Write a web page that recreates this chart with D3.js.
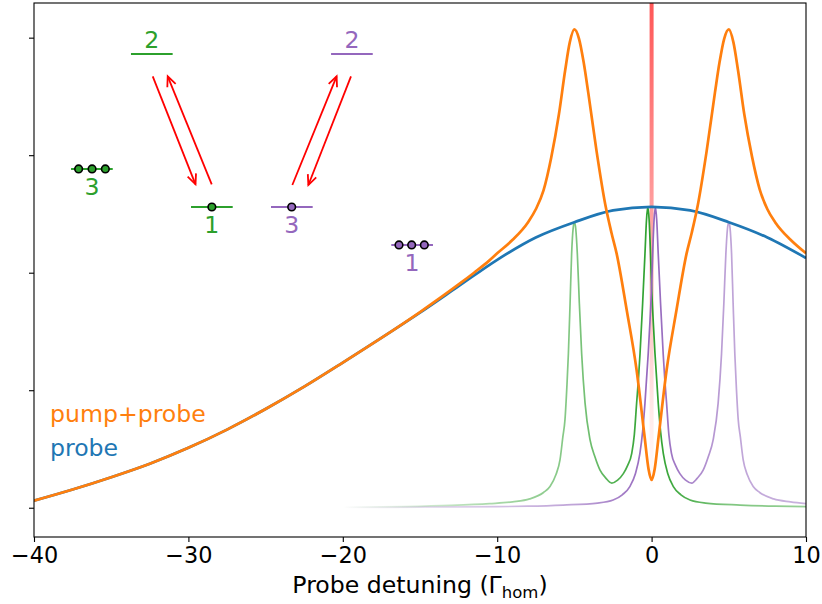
<!DOCTYPE html>
<html><head><meta charset="utf-8">
<script src="https://cdn.jsdelivr.net/npm/d3@7"></script>
<style>body{margin:0;background:#fff}svg{display:block}text{font-family:"DejaVu Sans",sans-serif}</style>
</head><body><svg id="c" width="822" height="604"></svg>
<script>
// ---------- data ----------
const xTicks = [-40, -30, -20, -10, 0, 10];
const yTicks = [0, 1, 2, 3, 4];

const probeX = [-40,-37.5,-35,-32.5,-30,-27.5,-25,-22.5,-20,-17.5,-15,-12.5,-10,-7.5,-5,-2.5,0,2.5,5,7.5,10];
const probeY = [0.06,0.155,0.26,0.375,0.51,0.665,0.84,1.03,1.235,1.445,1.66,1.885,2.11,2.30,2.43,2.53,2.56,2.53,2.43,2.30,2.125];

const pumpX = [-40,-37.5,-35,-32.5,-30,-27.5,-25,-22.5,-20,-17.5,-15,-12.5,-11.5,-10.5,-10,-9,-8,-7.5,-7,-6.5,-6,-5.6,-5.3,-5,-4.7,-4.4,-4.1,-3.56,-3.0,-2.6,-2.26,-1.61,-0.97,-0.45,-0.2,0,0.2,0.45,0.97,1.61,2.26,2.6,3.0,3.56,4.1,4.4,4.7,5,5.3,5.6,6,6.5,7,7.5,8,9,10];
const pumpY = [0.06,0.155,0.26,0.375,0.51,0.665,0.84,1.03,1.235,1.445,1.665,1.9,2.0,2.105,2.165,2.28,2.43,2.54,2.7,2.98,3.35,3.72,3.96,4.07,3.99,3.79,3.53,3.03,2.58,2.34,2.16,1.68,1.17,0.6,0.33,0.236,0.33,0.6,1.17,1.68,2.16,2.34,2.58,3.03,3.53,3.79,3.99,4.07,3.96,3.72,3.35,2.99,2.71,2.54,2.43,2.28,2.165];

const greenX = [-20,-16,-13,-10.5,-9,-7.9,-7,-6.58,-6.2,-5.93,-5.75,-5.61,-5.48,-5.39,-5.28,-5.18,-5.08,-5,-4.91,-4.81,-4.68,-4.53,-4.31,-3.99,-3.66,-3.34,-2.95,-2.58,-2.2,-1.83,-1.55,-1.29,-1.12,-0.97,-0.85,-0.75,-0.58,-0.43,-0.33,-0.25,-0.16,-0.08,0,0.1,0.22,0.43,0.58,0.76,1.05,1.41,1.9,2.49,3.5,5.73,8,10];
const greenY = [0.004,0.01,0.02,0.035,0.05,0.075,0.13,0.18,0.28,0.41,0.6,0.75,1.05,1.31,1.74,2.16,2.38,2.43,2.37,2.16,1.74,1.31,0.89,0.58,0.43,0.32,0.25,0.21,0.235,0.29,0.36,0.46,0.62,0.89,1.1,1.31,1.74,2.16,2.45,2.56,2.45,2.2,1.88,1.6,1.31,0.89,0.65,0.46,0.29,0.18,0.11,0.066,0.04,0.023,0.013,0.009];

const purpleX = [-20,-15,-10,-8,-5.73,-3.5,-2.49,-1.9,-1.41,-1.05,-0.76,-0.58,-0.43,-0.22,-0.1,0,0.08,0.16,0.25,0.33,0.43,0.58,0.75,0.85,0.97,1.12,1.29,1.55,1.83,2.2,2.6,2.95,3.34,3.66,3.99,4.31,4.53,4.68,4.81,4.91,5,5.08,5.18,5.28,5.39,5.48,5.61,5.75,5.93,6.2,6.58,7,7.9,9,10];
const purpleY = [0.003,0.005,0.009,0.013,0.023,0.04,0.066,0.11,0.18,0.29,0.46,0.65,0.89,1.31,1.6,1.88,2.2,2.45,2.56,2.45,2.16,1.74,1.31,1.1,0.89,0.62,0.46,0.36,0.29,0.235,0.21,0.25,0.32,0.43,0.58,0.89,1.31,1.74,2.16,2.37,2.43,2.38,2.16,1.74,1.31,1.05,0.75,0.6,0.41,0.28,0.18,0.13,0.075,0.05,0.035];

const pumpLineX = 0;
const pumpLineY = [0.15, 4.3];

const legendLabels = ["pump+probe", "probe"];

// energy level diagrams (data coordinates)
const greenLevels = [
  {label: "2", x: -32.37, y: 3.861, dots: [], pos: "above"},
  {label: "1", x: -28.48, y: 2.559, dots: [-28.48], pos: "below"},
  {label: "3", x: -36.25, y: 2.883, dots: [-37.11, -36.24, -35.38], pos: "below"}
];
const purpleLevels = [
  {label: "2", x: -19.41, y: 3.861, dots: [], pos: "above"},
  {label: "3", x: -23.30, y: 2.559, dots: [-23.31], pos: "below"},
  {label: "1", x: -15.51, y: 2.236, dots: [-16.36, -15.54, -14.72], pos: "below"}
];
const levelHalfWidth = 1.35;
const arrows = [
  {x1: -32.31, y1: 3.671, x2: -29.54, y2: 2.752},
  {x1: -28.49, y1: 2.752, x2: -31.34, y2: 3.671},
  {x1: -23.27, y1: 2.746, x2: -20.40, y2: 3.671},
  {x1: -19.47, y1: 3.671, x2: -22.23, y2: 2.746}
];

// ---------- drawing ----------
const C = {blue: "#1f77b4", orange: "#ff7f0e", green: "#2ca02c", purple: "#9467bd", red: "#ff0000"};
const m = {l: 34, r: 806, t: 3, b: 537};
const x = d3.scaleLinear().domain([-40, 10]).range([m.l, m.r]);
const y = d3.scaleLinear().domain([-0.249, 4.295]).range([m.b, m.t]);
const svg = d3.select("#c");
const defs = svg.append("defs");
defs.append("clipPath").attr("id", "clip").append("rect")
  .attr("x", m.l).attr("y", m.t).attr("width", m.r - m.l).attr("height", m.b - m.t);

const fadeStops = [[-20,0],[-17,0.12],[-13,0.3],[-9,0.45],[-5,0.6],[-2,0.85],[0,1],[2,0.85],[5,0.6],[10,0.5]];
function fadeGrad(id, color) {
  const g = defs.append("linearGradient").attr("id", id).attr("gradientUnits", "userSpaceOnUse")
    .attr("x1", x(-20)).attr("x2", x(10)).attr("y1", 0).attr("y2", 0);
  fadeStops.forEach(s => g.append("stop").attr("offset", (s[0] + 20) / 30)
    .attr("stop-color", color).attr("stop-opacity", s[1]));
}
fadeGrad("gGreen", C.green);
fadeGrad("gPurple", C.purple);
const rg = defs.append("linearGradient").attr("id", "gRed").attr("gradientUnits", "userSpaceOnUse")
  .attr("x1", 0).attr("x2", 0).attr("y1", y(pumpLineY[1])).attr("y2", y(pumpLineY[0]));
[[0, 0.66], [0.45, 0.36], [0.85, 0.08], [1, 0]].forEach(s =>
  rg.append("stop").attr("offset", s[0]).attr("stop-color", C.red).attr("stop-opacity", s[1]));

const plot = svg.append("g").attr("clip-path", "url(#clip)");
const line = d3.line().x(d => x(d[0])).y(d => y(d[1])).curve(d3.curveMonotoneX);
const zip = (a, b) => a.map((v, i) => [v, b[i]]);

plot.append("line").attr("x1", x(pumpLineX)).attr("x2", x(pumpLineX))
  .attr("y1", y(pumpLineY[0])).attr("y2", y(pumpLineY[1]))
  .attr("stroke", "url(#gRed)").attr("stroke-width", 4);

plot.append("path").attr("d", line(zip(greenX, greenY))).attr("fill", "none")
  .attr("stroke", "url(#gGreen)").attr("stroke-width", 1.7).attr("stroke-linejoin", "round");
plot.append("path").attr("d", line(zip(purpleX, purpleY))).attr("fill", "none")
  .attr("stroke", "url(#gPurple)").attr("stroke-width", 1.7).attr("stroke-linejoin", "round");
plot.append("path").attr("d", line(zip(probeX, probeY))).attr("fill", "none")
  .attr("stroke", C.blue).attr("stroke-width", 2.7).attr("stroke-linejoin", "round");
plot.append("path").attr("d", line(zip(pumpX, pumpY))).attr("fill", "none")
  .attr("stroke", C.orange).attr("stroke-width", 2.7).attr("stroke-linejoin", "round");

// axes
const xAxis = d3.axisBottom(x).tickValues(xTicks).tickSize(5).tickPadding(5)
  .tickFormat(d => d < 0 ? "\u2212" + Math.abs(d) : String(d));
const gx = svg.append("g").attr("transform", `translate(0,${m.b})`).call(xAxis);
gx.select(".domain").remove();
gx.selectAll(".tick line").attr("stroke", "#000").attr("stroke-width", 1.1);
gx.selectAll(".tick text").attr("font-size", "22.4px").attr("fill", "#000")
  .attr("font-family", "DejaVu Sans");

const yAxis = d3.axisLeft(y).tickValues(yTicks).tickSize(5).tickFormat("");
const gy = svg.append("g").attr("transform", `translate(${m.l},0)`).call(yAxis);
gy.select(".domain").remove();
gy.selectAll(".tick line").attr("stroke", "#000").attr("stroke-width", 1.1);

svg.append("rect").attr("x", m.l).attr("y", m.t).attr("width", m.r - m.l).attr("height", m.b - m.t)
  .attr("fill", "none").attr("stroke", "#000").attr("stroke-width", 1.1);

const xl = svg.append("text").attr("x", (m.l + m.r) / 2).attr("y", 592.5)
  .attr("text-anchor", "middle").attr("font-size", "23.6px").attr("fill", "#000");
xl.append("tspan").text("Probe detuning (\u0393");
xl.append("tspan").text("hom").attr("font-size", "16.5px").attr("dy", 5);
xl.append("tspan").text(")").attr("font-size", "23.6px").attr("dy", -5);

// legend texts
svg.append("text").attr("x", m.l + 16).attr("y", 421.5).attr("font-size", "23.6px")
  .attr("fill", C.orange).text(legendLabels[0]);
svg.append("text").attr("x", m.l + 16).attr("y", 456).attr("font-size", "23.6px")
  .attr("fill", C.blue).text(legendLabels[1]);

// level diagrams
function drawLevels(levels, color) {
  const g = svg.append("g");
  levels.forEach(L => {
    g.append("line").attr("x1", x(L.x - levelHalfWidth)).attr("x2", x(L.x + levelHalfWidth))
      .attr("y1", y(L.y)).attr("y2", y(L.y)).attr("stroke", color).attr("stroke-width", 2);
    L.dots.forEach(d => g.append("circle").attr("cx", x(d)).attr("cy", y(L.y)).attr("r", 3.8)
      .attr("fill", color).attr("stroke", "#000").attr("stroke-width", 1.6));
    g.append("text").attr("x", x(L.x)).attr("y", y(L.y) + (L.pos === "above" ? -6.3 : 25.7))
      .attr("text-anchor", "middle").attr("font-size", "23.6px").attr("fill", color).text(L.label);
  });
}
drawLevels(greenLevels, C.green);
drawLevels(purpleLevels, C.purple);

const ag = svg.append("g").attr("stroke", C.red).attr("stroke-width", 1.8).attr("fill", "none");
arrows.forEach(a => {
  const x1 = x(a.x1), y1 = y(a.y1), x2 = x(a.x2), y2 = y(a.y2);
  const dx = x2 - x1, dy = y2 - y1, L = Math.hypot(dx, dy), ux = dx / L, uy = dy / L;
  const hl = 10, hw = 4.5, bx = x2 - ux * hl, by = y2 - uy * hl, px = -uy, py = ux;
  ag.append("path").attr("d", `M${x1},${y1}L${x2},${y2}`);
  ag.append("path").attr("d", `M${bx + px * hw},${by + py * hw}L${x2},${y2}L${bx - px * hw},${by - py * hw}`);
});
</script></body></html>
